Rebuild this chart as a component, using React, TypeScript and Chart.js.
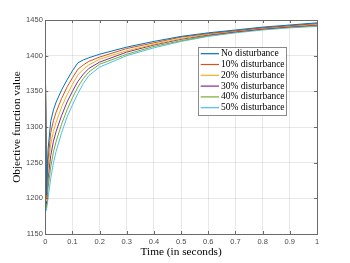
import React, { useEffect, useRef } from 'react';
import { Chart, registerables } from 'chart.js';

Chart.register(...registerables);

// ---- data ----
const times = [0, 0.004, 0.01, 0.02, 0.03, 0.04, 0.06, 0.08, 0.1, 0.12, 0.14, 0.16, 0.2, 0.3, 0.4, 0.5, 0.6, 0.7, 0.8, 0.9, 1.0];
const seriesLabels = ['No disturbance', '10% disturbance', '20% disturbance', '30% disturbance', '40% disturbance', '50% disturbance'];
const noDist = [1400, 1205, 1268, 1308, 1324, 1335, 1352, 1366, 1379, 1390, 1394, 1397, 1402, 1412, 1420, 1427, 1432, 1436, 1440, 1443, 1446];
const dist10 = [1400, 1201, 1254, 1292, 1309, 1321, 1340, 1356, 1369, 1381, 1387, 1392, 1398, 1410, 1418, 1426, 1431, 1435, 1439, 1442, 1445];
const dist20 = [1400, 1196, 1241, 1276, 1294, 1307, 1328, 1345, 1360, 1373, 1381, 1387, 1395, 1407, 1416, 1424, 1430, 1434.5, 1438.5, 1441.5, 1444];
const dist30 = [1400, 1192, 1227, 1260, 1280, 1294, 1316, 1335, 1350, 1364, 1374, 1382, 1391, 1405, 1415, 1423, 1429, 1433.5, 1437.5, 1440.5, 1443];
const dist40 = [1400, 1187, 1214, 1244, 1265, 1280, 1304, 1324, 1341, 1356, 1368, 1377, 1388, 1402, 1413, 1421, 1428, 1433, 1437, 1440, 1442];
const dist50 = [1400, 1183, 1200, 1228, 1250, 1266, 1292, 1314, 1331, 1347, 1361, 1372, 1384, 1400, 1411, 1420, 1427, 1432, 1436, 1439, 1441];
const seriesValues = [noDist, dist10, dist20, dist30, dist40, dist50];
const seriesColors = ['#0072BD', '#D95319', '#EDB120', '#7E2F8E', '#77AC30', '#4DBEEE'];

const xTicks = [0, 0.1, 0.2, 0.3, 0.4, 0.5, 0.6, 0.7, 0.8, 0.9, 1];
const xTickLabels = ['0', '0.1', '0.2', '0.3', '0.4', '0.5', '0.6', '0.7', '0.8', '0.9', '1'];
const yTicks = [1150, 1200, 1250, 1300, 1350, 1400, 1450];
const yTickLabels = ['1150', '1200', '1250', '1300', '1350', '1400', '1450'];

const AXIS_COLOR = '#6a6a6a';

const framePlugin = {
  id: 'matlabFrame',
  afterDraw(chart: any) {
    const { ctx, chartArea: a, scales } = chart;
    ctx.save();
    ctx.strokeStyle = AXIS_COLOR;
    ctx.lineWidth = 1;
    const tl = 3;
    ctx.beginPath();
    xTicks.forEach((v) => {
      const px = Math.round(scales.x.getPixelForValue(v)) + 0.5;
      ctx.moveTo(px, a.bottom);
      ctx.lineTo(px, a.bottom - tl);
      ctx.moveTo(px, a.top);
      ctx.lineTo(px, a.top + tl);
    });
    yTicks.forEach((v) => {
      const py = Math.round(scales.y.getPixelForValue(v)) + 0.5;
      ctx.moveTo(a.left, py);
      ctx.lineTo(a.left + tl, py);
      ctx.moveTo(a.right, py);
      ctx.lineTo(a.right - tl, py);
    });
    ctx.stroke();
    ctx.strokeRect(Math.round(a.left) + 0.5, Math.round(a.top) + 0.5, Math.round(a.right - a.left), Math.round(a.bottom - a.top));
    ctx.restore();
  },
};

const legendPlugin = {
  id: 'matlabLegend',
  afterDatasetsDraw(chart: any) {
    const ctx = chart.ctx;
    const x0 = 198.5, y0 = 47.5, w = 88, h = 68;
    ctx.save();
    ctx.fillStyle = '#ffffff';
    ctx.fillRect(x0, y0, w, h);
    ctx.strokeStyle = '#8a8a8a';
    ctx.lineWidth = 1;
    ctx.strokeRect(x0, y0, w, h);
    ctx.font = '9.5px "Liberation Serif"';
    ctx.textBaseline = 'middle';
    chart.data.datasets.forEach((ds: any, i: number) => {
      const y = 53.7 + i * 10.8;
      ctx.strokeStyle = ds.borderColor;
      ctx.lineWidth = 1.2;
      ctx.beginPath();
      ctx.moveTo(200.7, y);
      ctx.lineTo(219, y);
      ctx.stroke();
      ctx.fillStyle = '#000';
      ctx.fillText(ds.label, 221, y);
    });
    ctx.restore();
  },
};

export default function App() {
  const ref = useRef<HTMLCanvasElement | null>(null);
  useEffect(() => {
    if (!ref.current) return;
    const chart = new Chart(ref.current, {
      type: 'line',
      data: {
        datasets: seriesLabels.map((label, i) => ({
          label,
          data: times.map((t, j) => ({ x: t, y: seriesValues[i][j] })),
          borderColor: seriesColors[i],
          backgroundColor: seriesColors[i],
          borderWidth: 1,
          pointRadius: 0,
          tension: 0,
          fill: false,
        })),
      },
      options: {
        responsive: false,
        animation: false,
        layout: { padding: { left: 0, right: 33, top: 20, bottom: 0 } },
        plugins: { legend: { display: false }, tooltip: { enabled: false } },
        scales: {
          x: {
            type: 'linear',
            min: 0,
            max: 1,
            afterBuildTicks: (s: any) => { s.ticks = xTicks.map((v) => ({ value: v })); },
            afterFit: (s: any) => { s.height = 29; },
            ticks: {
              callback: (_v: any, i: number) => xTickLabels[i],
              font: { family: '"Liberation Sans"', size: 7.5 },
              color: '#4a4a4a',
              padding: 3,
              maxRotation: 0,
              autoSkip: false,
            },
            grid: { color: 'rgba(0,0,0,0.09)', drawTicks: false },
            border: { display: false },
            title: {
              display: true,
              text: 'Time (in seconds)',
              font: { family: '"Liberation Serif"', size: 11.3 },
              color: '#000',
              padding: { top: 0, bottom: 4.5 },
            },
          },
          y: {
            type: 'linear',
            min: 1150,
            max: 1450,
            afterBuildTicks: (s: any) => { s.ticks = yTicks.map((v) => ({ value: v })); },
            afterFit: (s: any) => { s.width = 45.3; },
            ticks: {
              callback: (_v: any, i: number) => yTickLabels[i],
              font: { family: '"Liberation Sans"', size: 7.5 },
              color: '#4a4a4a',
              padding: 2.5,
              autoSkip: false,
            },
            grid: { color: 'rgba(0,0,0,0.09)', drawTicks: false },
            border: { display: false },
            title: {
              display: true,
              text: 'Objective function value',
              font: { family: '"Liberation Serif"', size: 11.3 },
              color: '#000',
              padding: { top: 10, bottom: 0 },
            },
          },
        },
      },
      plugins: [legendPlugin, framePlugin],
    } as any);
    return () => chart.destroy();
  }, []);
  return (
    <div style={{ position: 'absolute', left: 0, top: 0, width: 350, height: 263, background: '#fff' }}>
      <canvas ref={ref} width={350} height={263} />
    </div>
  );
}
